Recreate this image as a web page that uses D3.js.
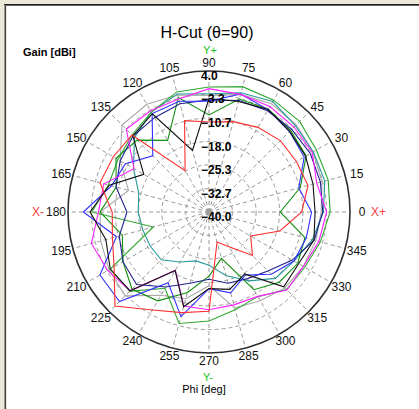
<!DOCTYPE html>
<html>
<head>
<meta charset="utf-8">
<script src="https://cdn.jsdelivr.net/npm/d3@7"></script>
<style>
  body { margin: 0; background: #fff; }
  svg { display: block; }
</style>
</head>
<body>
<div id="canvas"></div>
<script>
// phi angles (deg), one value per 15 degrees
var phi = d3.range(0, 360, 15);
var gainTicks = [4.0, -3.3, -10.7, -18.0, -25.3, -32.7, -40.0];
var phiTicks = d3.range(0, 360, 15);

var red     = [-11.1, -8.0, -8.5, -8.5, -9.5, -10.8, -11.9, -10.5, -25.1, -6.0, -5.5, -4.8, -9.8, -8.8, -5.8, 1.5, -4.7, -7.5, -9.0, -30.3, -27.5, -20.8, -25.0, -17.1];
var green   = [-2.2, -1.5, -1.3, 0.0, 0.3, 0.5, -1.0, -1.2, -4.0, -6.0, -7.2, -7.5, -3.4, -22.0, -4.4, -5.0, -12.5, -4.0, -6.0, -8.4, -9.5, -5.8, -5.5, -4.0];
var green2  = [-17.8, -10.5, -5.0, -4.0, -3.0, -3.5, -9.7, -3.0, -14.2, -8.3, -6.5, -10.0, -6.0, -12.0, -9.0, -6.0, -8.0, -14.0, -20.0, -25.0, -12.0, -9.0, -8.0, -9.0];
var teal    = [-4.3, -2.6, -2.4, -1.9, -0.2, -1.5, -3.1, -1.9, -4.0, -7.1, -12.8, -17.3, -17.9, -18.6, -18.8, -18.9, -22.0, -24.2, -23.4, -19.5, -15.2, -10.7, -9.4, -6.6];
var black   = [-6.9, -6.4, -5.2, -4.4, -3.1, -4.3, -4.6, -20.1, -4.6, -6.4, -16.5, -7.8, -2.9, -6.7, -4.4, -5.2, -18.9, -9.4, -16.1, -15.0, -17.7, -7.0, -7.7, -6.1];
var blue    = [-8.0, -11.0, -5.7, -4.5, -3.1, -1.9, -5.4, -4.2, -4.5, -15.2, -9.9, -8.5, -0.8, -10.1, -0.7, -0.5, -14.5, -6.2, -16.1, -13.9, -17.3, -12.5, -9.4, -8.6];
var navy    = [-4.5, -4.0, -3.5, -3.5, -3.5, -4.0, -5.0, -5.0, -6.0, -6.5, -8.0, -10.0, -14.4, -11.0, -9.0, -8.0, -13.0, -17.0, -19.0, -17.0, -16.0, -14.0, -10.0, -6.0];
var magenta = [-3.3, -5.2, -2.8, -2.5, -2.0, -2.0, -1.5, -3.5, -3.5, -3.5, -13.0, -6.0, -5.5, -2.0, -3.5, -5.2, -19.0, -9.6, -9.5, -10.0, -9.6, -5.6, -6.0, -4.5];
var gray    = [-5.0, -3.5, -2.5, -1.5, -1.0, -2.0, -3.6, -2.2, -1.2, -1.6, -8.0, -14.0, -6.0, -5.0, -4.0, -3.0, -10.0, -12.0, -17.0, -9.0, -8.0, -6.5, -6.0, -5.5];

var seriesValues = [gray, teal, green, green2, navy, blue, magenta, black, red];
var seriesColors = ['#a8a8a8', '#2a9a9a', '#30a830', '#109010', '#202090', '#3030ff', '#ff20ff', '#101010', '#ff3030'];

(function () {
  var width = 419,
    height = 409,
    cx = 209,
    cy = 212,
    radius = 141,
    font = 'Arial, "Liberation Sans", sans-serif'

  var r = d3.scaleLinear().domain([-40, 4]).range([0, radius])
  // phi 0 at the right, counter-clockwise; d3 radial angle 0 at the top, clockwise
  var ang = d3.scaleLinear().domain([0, 360]).range([Math.PI / 2, Math.PI / 2 - 2 * Math.PI])

  var svg = d3.select('#canvas').append('svg')
    .attr('width', width)
    .attr('height', height)

  // window frame
  svg.append('rect').attr('width', width).attr('height', height).attr('fill', '#ece9d8')
  svg.append('rect').attr('x', 7).attr('y', 6).attr('width', width - 7).attr('height', height - 6).attr('fill', '#fff')
  svg.append('line').attr('x1', 4.5).attr('x2', 4.5).attr('y1', 4).attr('y2', height).attr('stroke', '#9a9a90')
  svg.append('line').attr('x1', 5.5).attr('x2', 5.5).attr('y1', 4).attr('y2', height).attr('stroke', '#404040')
  svg.append('line').attr('x1', 4).attr('x2', width).attr('y1', 4.5).attr('y2', 4.5).attr('stroke', '#202020')
  svg.append('line').attr('x1', 5).attr('x2', width).attr('y1', 5.5).attr('y2', 5.5).attr('stroke', '#606060')

  var g = svg.append('g').attr('transform', 'translate(' + cx + ',' + cy + ')')

  // dashed rings
  g.selectAll('circle.ring')
    .data(gainTicks.slice(1, -1))
    .enter().append('circle')
    .attr('class', 'ring')
    .attr('r', function (d) { return r(d) })
    .attr('fill', 'none')
    .attr('stroke', '#9a9a9a')
    .attr('stroke-dasharray', '4,3')

  // spokes
  g.selectAll('line.spoke')
    .data(phiTicks)
    .enter().append('line')
    .attr('class', 'spoke')
    .attr('x1', 0).attr('y1', 0)
    .attr('x2', function (d) { return radius * Math.cos(d * Math.PI / 180) })
    .attr('y2', function (d) { return -radius * Math.sin(d * Math.PI / 180) })
    .attr('stroke', '#9a9a9a')
    .attr('stroke-dasharray', '4,3')

  // series
  var line = d3.lineRadial()
    .angle(function (d, i) { return ang(phi[i]) })
    .radius(function (d) { return r(d) })
    .curve(d3.curveLinearClosed)

  g.selectAll('path.series')
    .data(seriesValues)
    .enter().append('path')
    .attr('class', 'series')
    .attr('d', line)
    .attr('fill', 'none')
    .attr('stroke', function (d, i) { return seriesColors[i] })
    .attr('stroke-width', 1.1)

  // outer circle
  g.append('circle').attr('r', r(4)).attr('fill', 'none').attr('stroke', '#303030').attr('stroke-width', 1.6)

  // gain labels
  g.selectAll('text.gain')
    .data(gainTicks)
    .enter().append('text')
    .attr('class', 'gain')
    .attr('x', -8)
    .attr('y', function (d) { return -r(d) + 9 })
    .attr('font-family', font)
    .attr('font-size', '12px')
    .attr('font-weight', 'bold')
    .attr('fill', '#000')
    .text(d3.format('.1f'))

  // phi labels
  g.selectAll('text.phi')
    .data(phiTicks)
    .enter().append('text')
    .attr('class', 'phi')
    .attr('x', function (d) { return 153 * Math.cos(d * Math.PI / 180) })
    .attr('y', function (d) { return -149 * Math.sin(d * Math.PI / 180) })
    .attr('dy', '0.35em')
    .attr('text-anchor', 'middle')
    .attr('font-family', font)
    .attr('font-size', '12px')
    .attr('fill', '#111')
    .text(function (d) { return d })

  var label = function (x, y, txt, anchor, color, size, weight) {
    svg.append('text')
      .attr('x', x).attr('y', y)
      .attr('text-anchor', anchor)
      .attr('font-family', font)
      .attr('font-size', size)
      .attr('font-weight', weight || 'normal')
      .attr('fill', color)
      .text(txt)
  }

  label(207, 38, 'H-Cut (\u03b8=90)', 'middle', '#000', '16px')
  label(23, 56, 'Gain [dBi]', 'start', '#000', '11px', 'bold')
  label(210, 54, 'Y+', 'middle', '#20c020', '11px')
  label(208, 381, 'Y-', 'middle', '#20c020', '11px')
  label(44, cy + 4, 'X-', 'end', '#ff4040', '12px')
  label(371, cy + 4, 'X+', 'start', '#ff4040', '12px')
  label(204, 393, 'Phi [deg]', 'middle', '#000', '11px')
})()
</script>
</body>
</html>
